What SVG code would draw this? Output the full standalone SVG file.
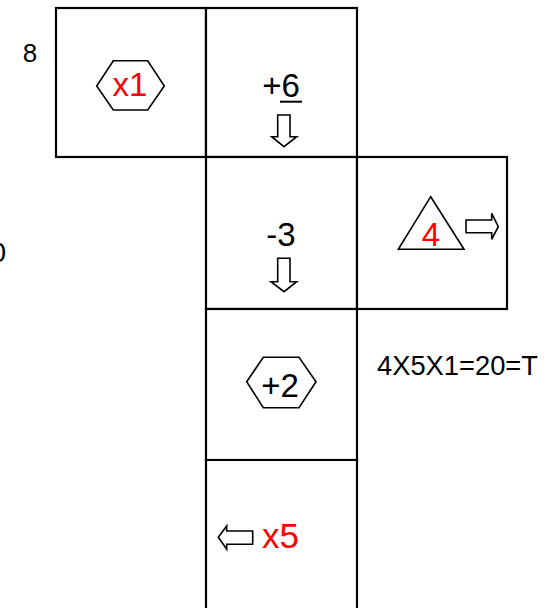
<svg xmlns="http://www.w3.org/2000/svg" width="558" height="608" viewBox="0 0 558 608">
<style>
.box{fill:#fff;stroke:#000;stroke-width:2.2}
.shape{fill:#fff;stroke:#000;stroke-width:1.6;stroke-linejoin:miter}
.arr{fill:#fff;stroke:#000;stroke-width:1.6;stroke-linejoin:miter}
text{font-family:"Liberation Sans","Open Sans",Arial,sans-serif;fill:#000}
.red{fill:#ff0000}
.big{font-size:33px;text-anchor:middle}
</style>
<rect width="558" height="608" fill="#fff"/>
<text x="6" y="262" font-size="28" text-anchor="end">0</text>
<text x="30" y="62" font-size="26" text-anchor="middle">8</text>
<g id="cell-x1">
  <rect class="box" x="56" y="8" width="150" height="149"/>
  <polygon class="shape" points="96.7,86 113.3,60.7 147.7,60.7 164.3,86 147.7,110 113.3,110"/>
  <text class="big red" x="130" y="96" font-size="32">x1</text>
</g>
<g id="cell-plus6">
  <rect class="box" x="206" y="8" width="151" height="149"/>
  <text class="big" x="281" y="97">+6</text>
  <line x1="280" y1="101.7" x2="302" y2="101.7" stroke="#000" stroke-width="2"/>
</g>
<g id="cell-minus3">
  <rect class="box" x="206" y="157" width="151" height="152"/>
  <text class="big" x="281" y="245.5" font-size="34">-3</text>
</g>
<g id="cell-4">
  <rect class="box" x="357" y="157" width="150" height="152"/>
  <polygon class="shape" points="430.7,196.7 464,249.3 398.3,249.3"/>
  <text class="big red" x="431" y="246">4</text>
</g>
<g id="cell-plus2">
  <rect class="box" x="206" y="309" width="151" height="151"/>
  <polygon class="shape" points="246.7,381.7 263.3,357.3 299,357.3 316,381.7 299,407.7 263.3,407.7"/>
  <text class="big" x="280" y="396.5" font-size="34">+2</text>
</g>
<g id="cell-x5">
  <path class="box" d="M206,612 V460 H357 V612"/>
  <text class="red" x="262" y="547.5" font-size="35">x5</text>
</g>
<g id="equation">
  <text x="377" y="375" font-size="27" textLength="161" lengthAdjust="spacingAndGlyphs">4X5X1=20=T</text>
</g>
<g id="connectors">
  <polygon class="arr" points="277.7,115 290,115 290,136.7 296.7,136.7 284,146.7 271.7,136.7 277.7,136.7"/>
  <polygon class="arr" points="277.7,258.3 290,258.3 290,281.7 296.7,281.7 284,291.7 271,281.7 277.7,281.7"/>
  <polygon class="arr" points="466,220 491.7,220 491.7,213.3 498.3,226.7 491.7,239.3 491.7,232.7 466,232.7"/>
  <polygon class="arr" points="252.7,531 226.7,531 226.7,526 218.3,537.3 226.7,549.3 226.7,544.3 252.7,544.3"/>
</g>
</svg>
